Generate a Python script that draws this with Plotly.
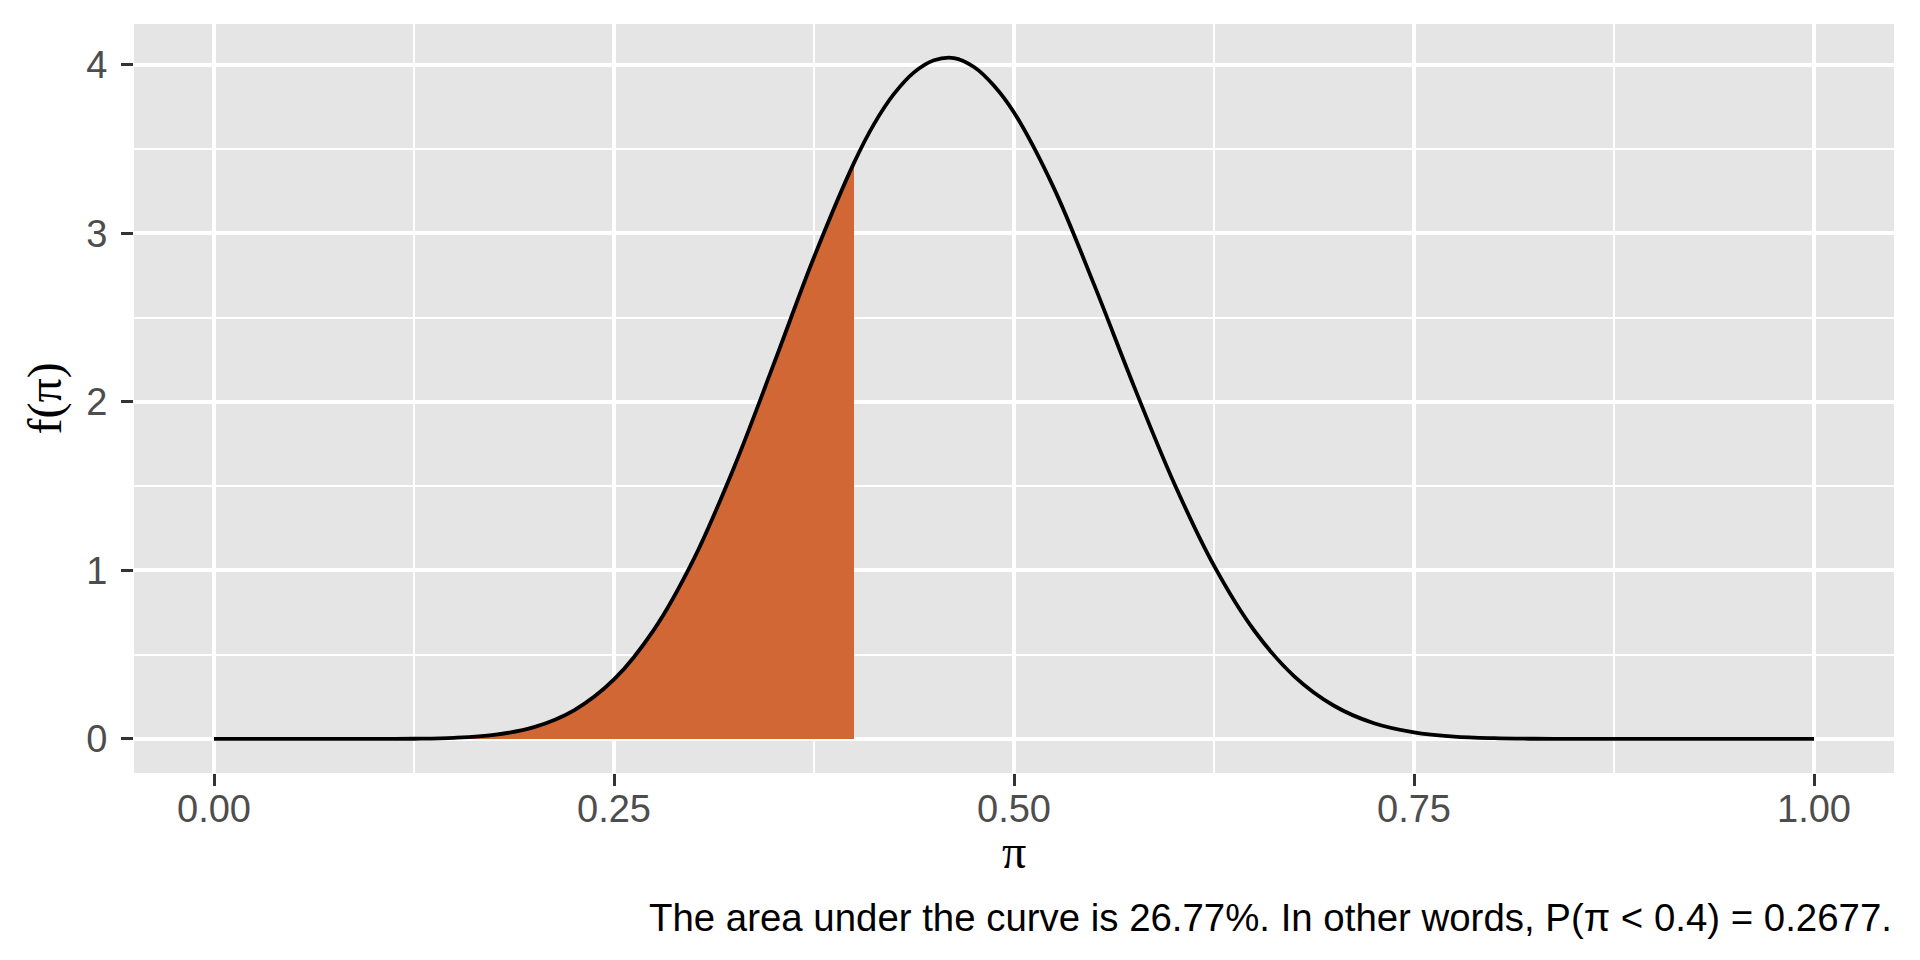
import plotly.graph_objects as go

# density curve
pi_vals = [0.0, 0.025, 0.05, 0.075, 0.1, 0.125, 0.15, 0.175, 0.2, 0.225, 0.25, 0.275,
           0.3, 0.325, 0.35, 0.375, 0.4, 0.4125, 0.425, 0.4375, 0.45, 0.4625, 0.475, 0.4875,
           0.5, 0.525, 0.55, 0.575, 0.6, 0.625, 0.65, 0.675, 0.7, 0.725, 0.75, 0.775, 0.8,
           0.825, 0.85, 0.875, 0.9, 0.925, 0.95, 0.975, 1.0]
dens = [0, 0, 0, 0, 0.0002, 0.0013, 0.0065, 0.024, 0.070, 0.170, 0.353, 0.649,
        1.070, 1.611, 2.228, 2.858, 3.418, 3.648, 3.827, 3.955, 4.027, 4.04, 3.987, 3.876,
        3.717, 3.267, 2.697, 2.092, 1.519, 1.028, 0.645, 0.373, 0.197, 0.093, 0.039, 0.014, 0.0044,
        0.0011, 0.0002, 0, 0, 0, 0, 0, 0]
cutoff = 0.4
x_ticks = [0, 0.25, 0.5, 0.75, 1.0]
x_labels = ["0.00", "0.25", "0.50", "0.75", "1.00"]
y_ticks = [0, 1, 2, 3, 4]
caption = "The area under the curve is 26.77%. In other words, P(\u03c0 < 0.4) = 0.2677."

shade_x = [x for x in pi_vals if x <= cutoff]
shade_y = dens[:len(shade_x)]

fig = go.Figure()
fig.add_trace(go.Scatter(x=shade_x, y=shade_y, mode="lines", fill="tozeroy",
                         fillcolor="rgb(209,103,52)", line=dict(width=0, shape="spline"),
                         hoverinfo="skip", showlegend=False))
fig.add_trace(go.Scatter(x=pi_vals, y=dens, mode="lines",
                         line=dict(color="black", width=3.8, shape="spline"),
                         showlegend=False))

tick_font = dict(family="Liberation Sans, Arial, sans-serif", size=38, color="#4D4D4D")
fig.update_xaxes(range=[-0.05, 1.05], tickvals=x_ticks, ticktext=x_labels,
                 showgrid=True, gridcolor="white", gridwidth=4,
                 minor=dict(tickvals=[0.125, 0.375, 0.625, 0.875], showgrid=True,
                            gridcolor="white", gridwidth=2),
                 ticks="outside", ticklen=12, tickwidth=3, tickcolor="#333333",
                 tickfont=tick_font, zeroline=False, showline=False,
                 ticklabelstandoff=-10, automargin=False)
fig.update_yaxes(range=[-0.202, 4.242], tickvals=y_ticks,
                 showgrid=True, gridcolor="white", gridwidth=4,
                 minor=dict(tickvals=[0.5, 1.5, 2.5, 3.5], showgrid=True,
                            gridcolor="white", gridwidth=2),
                 ticks="outside", ticklen=12, tickwidth=3, tickcolor="#333333",
                 tickfont=tick_font, zeroline=False, showline=False,
                 ticklabelstandoff=6, automargin=False)

fig.add_annotation(text="\u03c0", xref="paper", yref="paper", x=0.5, y=0,
                   yanchor="middle", yshift=-78, showarrow=False,
                   font=dict(family="Liberation Serif, serif", size=48, color="black"))
fig.add_annotation(text="f(\u03c0)", xref="paper", yref="paper", x=0, y=0.5,
                   xanchor="center", xshift=-90, textangle=-90, showarrow=False,
                   font=dict(family="Liberation Serif, serif", size=48, color="black"))
fig.add_annotation(text=caption, xref="paper", yref="paper", x=1, y=0,
                   xanchor="right", yanchor="middle", yshift=-144, showarrow=False,
                   font=dict(family="Liberation Sans, Arial, sans-serif", size=38.4, color="black"))

# page body adds an 8px offset, so the figure is 8px smaller and margins shifted
fig.update_layout(width=1912, height=952, plot_bgcolor="#E5E5E5", paper_bgcolor="white",
                  margin=dict(l=126, r=26, t=16, b=187))
fig.write_html("out.html")
